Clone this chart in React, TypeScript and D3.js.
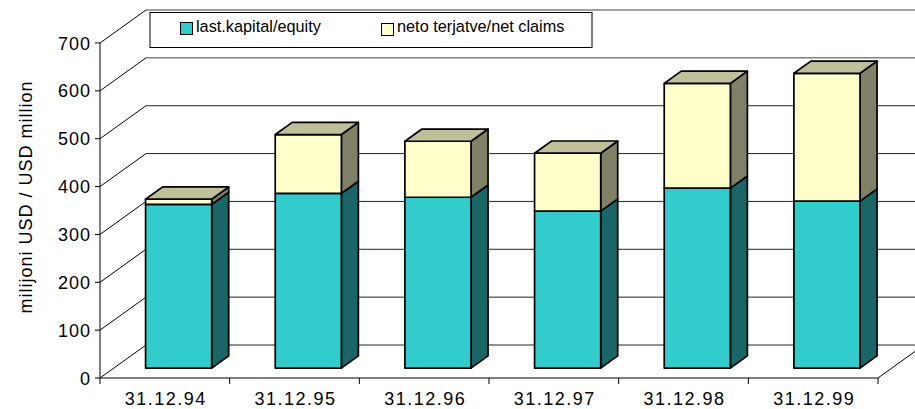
import React from "react";
import * as d3 from "d3";

const categories = ["31.12.94", "31.12.95", "31.12.96", "31.12.97", "31.12.98", "31.12.99"];
const equity = [342, 365, 357, 328, 376, 349];
const netClaims = [11, 123, 117, 121, 219, 267];
const yTicks = [0, 100, 200, 300, 400, 500, 600, 700];
const seriesNames = ["last.kapital/equity", "neto terjatve/net claims"];
const yTitle = "milijoni USD / USD million";

const W = 915;
const H = 409;
const X0 = 100;
const X1 = 878;
const Y0 = 378;
const DX = 46;
const DY = 33;
const D_FRONT = 0.3;
const D_BACK = 0.67;
const BAR_FRAC = 0.51;

const colors = [
  { front: "#33CCCC", side: "#1A6666", top: "#99E6E6" },
  { front: "#FFFFCC", side: "#808066", top: "#BFBF99" },
];

export default function App() {
  const x = d3.scaleBand<string>().domain(categories).range([X0, X1]).padding(0);
  const y = d3.scaleLinear().domain([0, 700]).range([0, 335]);
  const bw = x.bandwidth();

  const table = categories.map((c, i) => ({ cat: c, equity: equity[i], net: netClaims[i] }));
  const stack = d3.stack<any>().keys(["equity", "net"])(table);

  const P = (xf: number, v: number, d: number): [number, number] => [xf + d * DX, Y0 - y(v) - d * DY];
  const pts = (arr: [number, number][]) => arr.map((p) => p.join(",")).join(" ");

  const gridStroke = (v: number) => (v >= 600 ? "#808080" : "#222");
  const gridWidth = (v: number) => (v >= 600 ? 1.5 : 1);

  const bars: React.ReactNode[] = [];
  categories.forEach((c, i) => {
    const xs = (x(c) as number) + (bw * (1 - BAR_FRAC)) / 2;
    const xe = xs + bw * BAR_FRAC;
    stack.forEach((s, si) => {
      const [v0, v1] = s[i];
      const col = colors[si];
      const isTop = si === stack.length - 1;
      const front = [P(xs, v0, D_FRONT), P(xe, v0, D_FRONT), P(xe, v1, D_FRONT), P(xs, v1, D_FRONT)] as [number, number][];
      const side = [P(xe, v0, D_FRONT), P(xe, v0, D_BACK), P(xe, v1, D_BACK), P(xe, v1, D_FRONT)] as [number, number][];
      const top = [P(xs, v1, D_FRONT), P(xe, v1, D_FRONT), P(xe, v1, D_BACK), P(xs, v1, D_BACK)] as [number, number][];
      bars.push(
        <g key={`b${i}-${si}`} stroke="#000" strokeWidth={1.7} strokeLinejoin="round">
          <polygon points={pts(side)} fill={col.side} />
          <polygon points={pts(front)} fill={col.front} />
          {isTop && <polygon points={pts(top)} fill={col.top} />}
        </g>
      );
    });
  });

  return (
    <svg width={W} height={H} style={{ position: "absolute", left: 0, top: 0, background: "#fff" }}
      fontFamily="'Liberation Sans', Arial, sans-serif">
      <rect x={0} y={0} width={W} height={H} fill="#fff" />
      {/* back wall gridlines */}
      {yTicks.map((v) => {
        const [ax, ay] = P(X0, v, 1);
        const [bx] = P(X1, v, 1);
        return <line key={`g${v}`} x1={ax} y1={ay} x2={bx} y2={ay} stroke={gridStroke(v)} strokeWidth={gridWidth(v)} />;
      })}
      {/* side wall diagonals */}
      {yTicks.map((v) => {
        const [ax, ay] = P(X0, v, 0);
        const [bx, by] = P(X0, v, 1);
        return <line key={`s${v}`} x1={ax} y1={ay} x2={bx} y2={by} stroke="#000" strokeWidth={1} />;
      })}
      {/* floor right edge */}
      {(() => {
        const [ax, ay] = P(X1, 0, 0);
        const [bx, by] = P(X1, 0, 1);
        return <line x1={ax} y1={ay} x2={bx} y2={by} stroke="#000" strokeWidth={1} />;
      })()}
      {/* legend */}
      <rect x={150} y={12.5} width={442} height={35} fill="#fff" stroke="#000" strokeWidth={1} />
      <rect x={180.5} y={22.5} width={12} height={12} fill={colors[0].front} stroke="#000" strokeWidth={1} />
      <text x={196} y={32} fontSize={16.3} fill="#000">{seriesNames[0]}</text>
      <rect x={381.5} y={23.5} width={12} height={12} fill={colors[1].front} stroke="#000" strokeWidth={1} />
      <text x={397} y={32} fontSize={16.3} fill="#000">{seriesNames[1]}</text>
      {/* bars */}
      {bars}
      {/* y axis */}
      <line x1={X0} y1={Y0 - y(700)} x2={X0} y2={Y0} stroke="#000" strokeWidth={1} />
      {yTicks.map((v) => (
        <g key={`t${v}`}>
          <line x1={X0 - 5} x2={X0} y1={Y0 - y(v)} y2={Y0 - y(v)} stroke="#000" strokeWidth={1} />
          <text x={91} y={Y0 - y(v) + 6.5} textAnchor="end" fontSize={18} letterSpacing={1} fill="#000">{v}</text>
        </g>
      ))}
      {/* x axis */}
      <line x1={X0} y1={Y0} x2={X1} y2={Y0} stroke="#000" strokeWidth={1} />
      {[...categories.map((c) => x(c) as number), X1].map((xv, i) => (
        <line key={`xt${i}`} x1={xv} x2={xv} y1={Y0} y2={Y0 + 6} stroke="#000" strokeWidth={1} />
      ))}
      {categories.map((c) => (
        <text key={`xl${c}`} x={(x(c) as number) + bw / 2 + 1} y={405} textAnchor="middle" fontSize={18} letterSpacing={1.5} fill="#000">{c}</text>
      ))}
      {/* y title */}
      <text transform={`translate(32,${197}) rotate(-90)`} textAnchor="middle" fontSize={18} letterSpacing={1} fill="#000">{yTitle}</text>
    </svg>
  );
}
